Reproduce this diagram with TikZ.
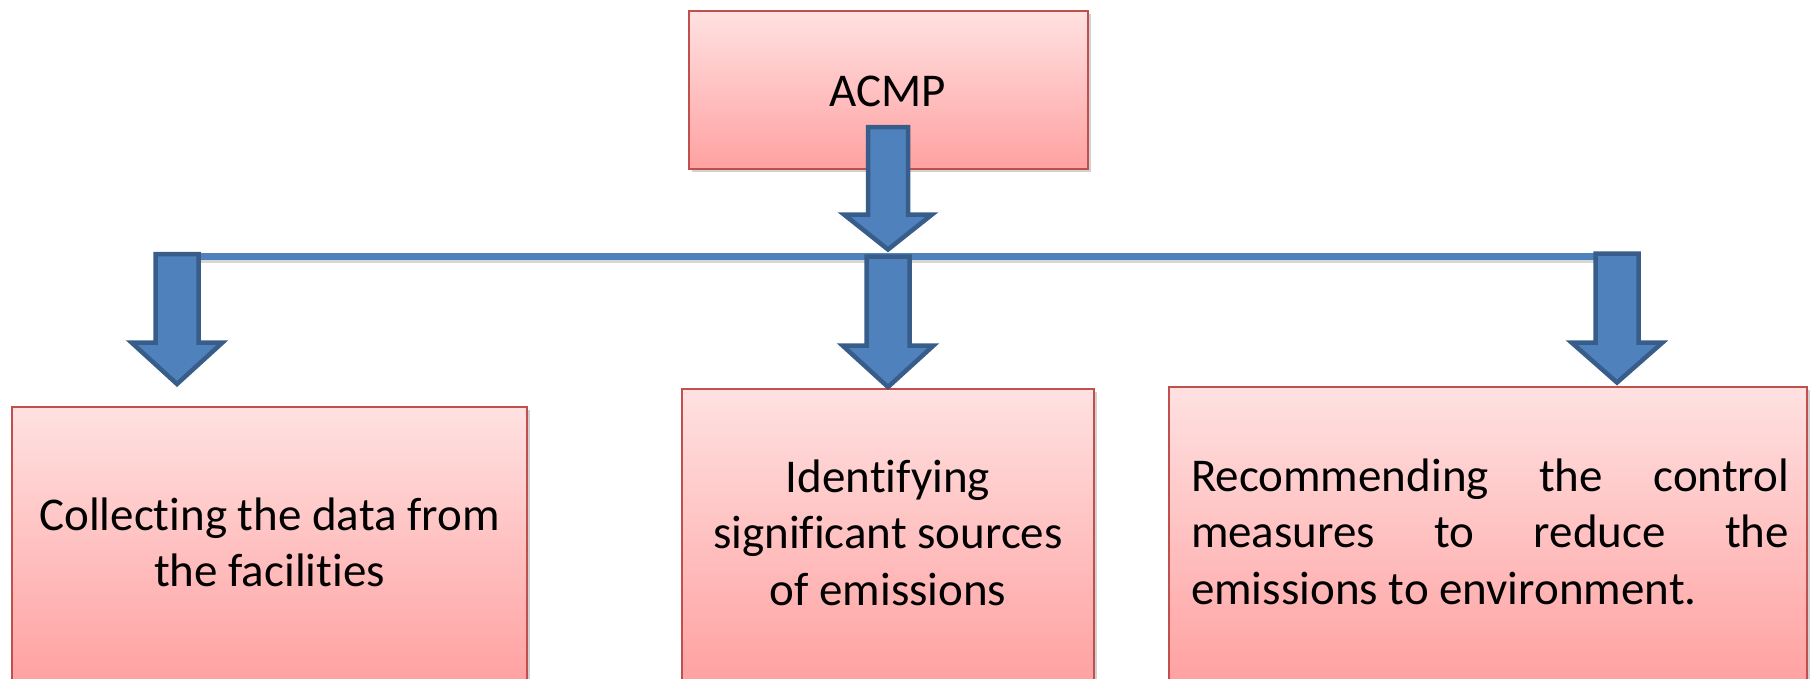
\documentclass[tikz,border=0pt]{standalone}
\usepackage{fontspec}
\setmainfont{Carlito}[Ligatures={NoCommon,NoRare}]
\usetikzlibrary{shadows,calc}

\definecolor{boxtop}{HTML}{FFE1E1}
\definecolor{boxbot}{HTML}{FFA1A1}
\definecolor{boxedge}{HTML}{C0504D}
\definecolor{arrowfill}{HTML}{4F81BD}
\definecolor{arrowedge}{HTML}{385D8A}

\tikzset{
  stepbox/.style={draw=boxedge, line width=1.8pt, top color=boxtop, bottom color=boxbot,
    inner sep=0pt, outer sep=0pt, anchor=center,
    drop shadow={shadow xshift=2.5pt, shadow yshift=-2.5pt, opacity=0.3, fill=black!60}},
  boxtext/.style={font=\fontsize{47}{56.5}\selectfont, inner sep=0pt, outer sep=0pt, anchor=base},
  blockarrow/.style={fill=arrowfill, draw=arrowedge, line width=4.5pt, line join=miter},
  busline/.style={draw=arrowfill, line width=7pt},
  busshadow/.style={draw=black, opacity=0.16, line width=7pt},
}

% downward block arrow from #1 (top of shaft) to #2 (tip);
% #3 shaft half width, #4 head half width, #5 head length (all in pt)
\newcommand\downblock[5]{%
  \draw[blockarrow] let \p1=(#1), \p2=(#2) in
    (\x1-#3pt,\y1) -- (\x1+#3pt,\y1) -- (\x1+#3pt,\y2+#5pt) -- (\x1+#4pt,\y2+#5pt)
    -- (\x1,\y2) -- (\x1-#4pt,\y2+#5pt) -- (\x1-#3pt,\y2+#5pt) -- cycle;}

\begin{document}
\begin{tikzpicture}[x=1pt,y=-1pt]
\useasboundingbox (0,0) rectangle (1812,678);

% boxes
\node[stepbox, minimum width=399pt, minimum height=158pt] (acmp) at (888.5,90) {};
\node[stepbox, minimum width=515pt, minimum height=276pt] (collect) at (269.5,545) {};
\node[stepbox, minimum width=412pt, minimum height=294pt] (identify) at (888,536) {};
\node[stepbox, minimum width=638pt, minimum height=296pt] (recommend) at (1488,535) {};

% texts
\node[boxtext] (acmptext) at (888,106) {ACMP};
\node[boxtext, text width=515pt, align=flush center] (collecttext) at (269.5,530)
  {Collecting the data from\\the facilities};
\node[boxtext, text width=412pt, align=flush center] (identifytext) at (888,492)
  {Identifying\\significant sources\\of emissions};
\node[boxtext, text width=598pt, align=justify] (recommendtext) at (1490,491)
  {Recommending the control\linebreak measures to reduce the\linebreak emissions to environment.};

% bus line joining the branches
\coordinate (busL) at (177,256.5);
\coordinate (busR) at (1617,256.5);
\draw[busshadow] ([yshift=-3pt]busL) -- ([yshift=-3pt]busR);
\draw[busline] (busL) -- (busR);

% arrow end points
\coordinate (topA) at (888,127);
\coordinate (topB) at (888,249.5);
\coordinate (leftA) at (177,254);
\coordinate (leftB) at (177,384);
\coordinate (midA) at (888,256.5);
\coordinate (midB) at (888,387);
\coordinate (rightA) at (1617,253.5);
\coordinate (rightB) at (1617,382.5);

\downblock{topA}{topB}{20}{44}{35}
\downblock{leftA}{leftB}{21.5}{45.5}{41.5}
\downblock{midA}{midB}{21.5}{45.5}{41.5}
\downblock{rightA}{rightB}{21.5}{45.5}{40}
\end{tikzpicture}
\end{document}
